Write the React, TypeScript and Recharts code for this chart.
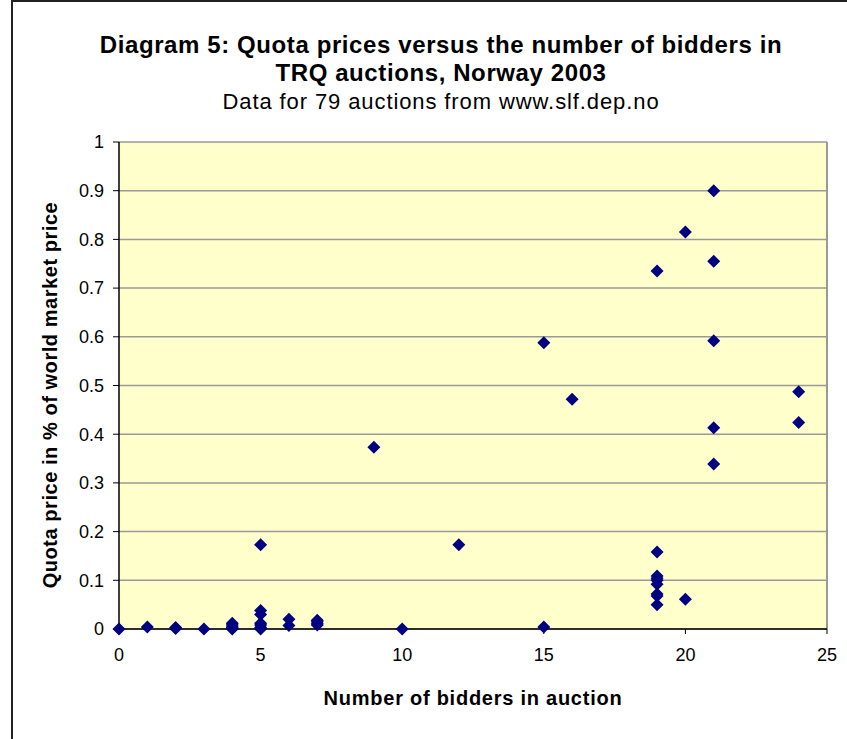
import React from 'react';
import { ScatterChart, Scatter, XAxis, YAxis, CartesianGrid, ReferenceLine } from 'recharts';

// number of bidders per auction
const bidders = [
  0, 1, 2, 2, 3,
  4, 4, 4, 4, 4,
  5, 5, 5, 5, 5, 5, 5,
  6, 6,
  7, 7, 7, 7,
  9, 10, 12,
  15, 15, 16,
  19, 19, 19, 19, 19, 19, 19, 19, 19,
  20, 20,
  21, 21, 21, 21, 21,
  24, 24,
];

// quota price as share of world market price
const quotaPrice = [
  0, 0.004, 0.003, 0.001, 0,
  0.012, 0.008, 0.004, 0.002, 0,
  0.173, 0.038, 0.03, 0.012, 0.008, 0.003, 0,
  0.02, 0.007,
  0.018, 0.015, 0.011, 0.008,
  0.373, 0, 0.173,
  0.588, 0.004, 0.472,
  0.735, 0.158, 0.109, 0.104, 0.1, 0.092, 0.072, 0.068, 0.05,
  0.815, 0.061,
  0.9, 0.755, 0.592, 0.413, 0.339,
  0.487, 0.424,
];

const xTicks = [0, 5, 10, 15, 20, 25];
const yTicks = [0, 0.1, 0.2, 0.3, 0.4, 0.5, 0.6, 0.7, 0.8, 0.9, 1];

const points = bidders.map((b, i) => ({ bidders: b, price: quotaPrice[i] }));

const font = '"Liberation Sans", Arial, sans-serif';

const Diamond = (props: any) => {
  const { cx, cy } = props;
  const r = 6.5;
  return (
    <polygon
      points={`${cx},${cy - r} ${cx + r},${cy} ${cx},${cy + r} ${cx - r},${cy}`}
      fill="#000080"
    />
  );
};

const App: React.FC = () => {
  return (
    <div style={{ position: 'absolute', left: 0, top: 0, width: 847, height: 739, overflow: 'hidden', background: '#fff', fontFamily: font }}>
      <div style={{ position: 'absolute', left: 11, top: 0, width: 900, height: 800, border: '2px solid #222' }} />

      <div style={{ position: 'absolute', left: 0, width: 882, top: 31, textAlign: 'center', fontWeight: 'bold', fontSize: 24, letterSpacing: 0.6, lineHeight: '28px', color: '#000' }}>
        Diagram 5: Quota prices versus the number of bidders in
        <br />
        TRQ auctions, Norway 2003
      </div>
      <div style={{ position: 'absolute', left: 0, width: 882, top: 89, textAlign: 'center', fontSize: 22, letterSpacing: 0.9, lineHeight: '26px', color: '#000' }}>
        Data for 79 auctions from www.slf.dep.no
      </div>

      <ScatterChart width={847} height={739} margin={{ top: 142, right: 20, bottom: 80, left: 0 }}>
        <CartesianGrid horizontal vertical={false} fill="#FFFFCC" stroke="#999" strokeWidth={1.5} />
        <ReferenceLine x={25} stroke="#999" strokeWidth={2} />
        <XAxis
          type="number"
          dataKey="bidders"
          domain={[0, 25]}
          ticks={xTicks}
          height={30}
          tickSize={5}
          tickMargin={14}
          axisLine={{ stroke: '#000', strokeWidth: 1.5 }}
          tickLine={{ stroke: '#000' }}
          tick={{ fill: '#000', fontSize: 18, fontFamily: font }}
        />
        <YAxis
          type="number"
          dataKey="price"
          domain={[0, 1]}
          ticks={yTicks}
          width={119}
          tickSize={6}
          tickMargin={9}
          axisLine={{ stroke: '#000', strokeWidth: 1.5 }}
          tickLine={{ stroke: '#000' }}
          tick={{ fill: '#000', fontSize: 18, fontFamily: font }}
        />
        <Scatter data={points} shape={<Diamond />} isAnimationActive={false} />
      </ScatterChart>

      <div style={{ position: 'absolute', left: 119, width: 708, top: 686, textAlign: 'center', fontWeight: 'bold', fontSize: 20, letterSpacing: 0.75, lineHeight: '24px', color: '#000' }}>
        Number of bidders in auction
      </div>
      <div style={{ position: 'absolute', left: 50, top: 395, width: 0, height: 0 }}>
        <div style={{ position: 'absolute', left: -220, top: -12, width: 440, textAlign: 'center', transform: 'rotate(-90deg)', fontWeight: 'bold', fontSize: 20, letterSpacing: 0.55, lineHeight: '24px', color: '#000', whiteSpace: 'nowrap' }}>
          Quota price in % of world market price
        </div>
      </div>
    </div>
  );
};

export default App;
